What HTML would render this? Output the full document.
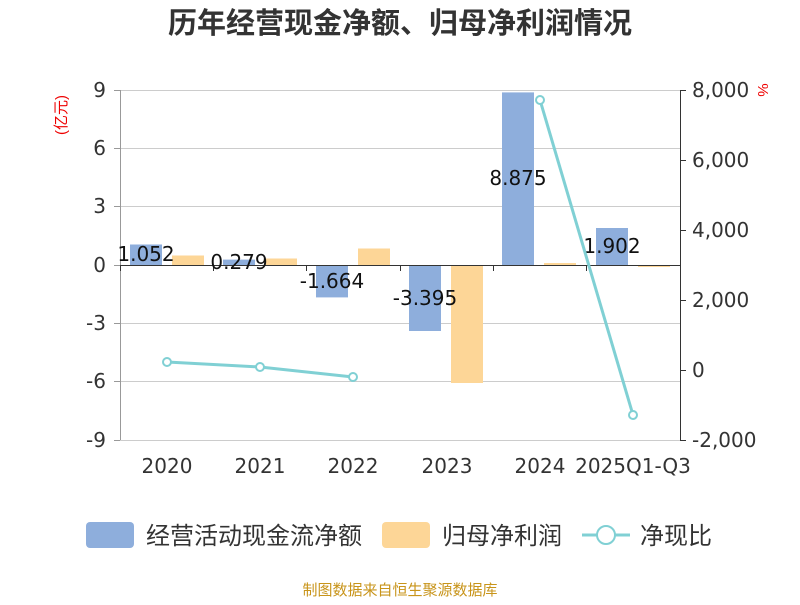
<!DOCTYPE html>
<html><head><meta charset="utf-8"><style>
body{margin:0;background:#fff;}
svg text{font-family:"Liberation Sans","Noto Sans CJK SC",sans-serif;}
svg .n{font-family:"DejaVu Sans","Noto Sans CJK SC",sans-serif;}
</style></head><body>
<svg width="800" height="600" xmlns="http://www.w3.org/2000/svg">
<text x="400" y="33" text-anchor="middle" font-size="29" font-weight="bold" fill="#333">历年经营现金净额、归母净利润情况</text>
<text transform="translate(66,115) rotate(-90)" text-anchor="middle" font-size="15" fill="#e00">(亿元)</text>
<text transform="translate(758,90) rotate(90)" text-anchor="middle" font-size="15" fill="#e00">%</text>
<g stroke="#ccc" stroke-width="1">
<line x1="120" x2="680" y1="90.5" y2="90.5"/><line x1="120" x2="680" y1="148.5" y2="148.5"/>
<line x1="120" x2="680" y1="206.5" y2="206.5"/><line x1="120" x2="680" y1="323.5" y2="323.5"/>
<line x1="120" x2="680" y1="381.5" y2="381.5"/><line x1="120" x2="680" y1="440.5" y2="440.5"/>
</g>
<line x1="120.5" x2="120.5" y1="90" y2="440" stroke="#999"/>
<g stroke="#999">
<line x1="114" x2="120" y1="90.5" y2="90.5"/><line x1="114" x2="120" y1="148.5" y2="148.5"/>
<line x1="114" x2="120" y1="206.5" y2="206.5"/><line x1="114" x2="120" y1="265.5" y2="265.5"/>
<line x1="114" x2="120" y1="323.5" y2="323.5"/><line x1="114" x2="120" y1="381.5" y2="381.5"/>
<line x1="114" x2="120" y1="440.5" y2="440.5"/>
</g>
<line x1="680.5" x2="680.5" y1="90" y2="440" stroke="#333"/>
<g stroke="#333">
<line x1="680" x2="686" y1="90.5" y2="90.5"/><line x1="680" x2="686" y1="160.5" y2="160.5"/>
<line x1="680" x2="686" y1="230.5" y2="230.5"/><line x1="680" x2="686" y1="300.5" y2="300.5"/>
<line x1="680" x2="686" y1="370.5" y2="370.5"/><line x1="680" x2="686" y1="440.5" y2="440.5"/>
</g>
<g class="n" fill="#333" font-size="20" text-anchor="end">
<text class="n" x="106" y="97">9</text><text class="n" x="106" y="155">6</text><text class="n" x="106" y="213">3</text>
<text class="n" x="106" y="272">0</text><text class="n" x="106" y="330">-3</text><text class="n" x="106" y="388">-6</text><text class="n" x="106" y="447">-9</text>
</g>
<g fill="#333" font-size="20">
<text class="n" x="692" y="97">8,000</text><text class="n" x="692" y="167">6,000</text><text class="n" x="692" y="237">4,000</text>
<text class="n" x="692" y="307">2,000</text><text class="n" x="692" y="377">0</text><text class="n" x="692" y="447">-2,000</text>
</g>
<g fill="#8eaedc">
<rect x="130" y="244.5" width="32" height="20.5"/>
<rect x="223" y="259.6" width="32" height="5.4"/>
<rect x="316" y="265" width="32" height="32.4"/>
<rect x="409" y="265" width="32" height="66"/>
<rect x="502" y="92.4" width="32" height="172.6"/>
<rect x="596" y="228" width="32" height="37"/>
</g>
<g fill="#fdd697">
<rect x="172" y="255.5" width="32" height="9.5"/>
<rect x="265" y="258.5" width="32" height="6.5"/>
<rect x="358" y="248.5" width="32" height="16.5"/>
<rect x="451" y="265" width="32" height="118"/>
<rect x="544" y="263" width="32" height="2"/>
<rect x="638" y="265" width="32" height="2"/>
</g>
<line x1="120" x2="680" y1="265.5" y2="265.5" stroke="#333"/>
<g stroke="#333">
<line x1="120.5" x2="120.5" y1="265" y2="271"/><line x1="213.5" x2="213.5" y1="265" y2="271"/>
<line x1="306.5" x2="306.5" y1="265" y2="271"/><line x1="400.5" x2="400.5" y1="265" y2="271"/>
<line x1="493.5" x2="493.5" y1="265" y2="271"/><line x1="586.5" x2="586.5" y1="265" y2="271"/>
<line x1="680.5" x2="680.5" y1="265" y2="271"/>
</g>
<g fill="#111" font-size="20" text-anchor="middle">
<text class="n" x="146" y="261">1.052</text><text class="n" x="239" y="269">0.279</text>
<text class="n" x="332" y="288">-1.664</text><text class="n" x="425" y="305">-3.395</text>
<text class="n" x="518" y="185">8.875</text><text class="n" x="612" y="253">1.902</text>
</g>
<polyline points="167,362 260,367 353,377" fill="none" stroke="#80d0d4" stroke-width="3"/>
<polyline points="540,100 633,415" fill="none" stroke="#80d0d4" stroke-width="3"/>
<g fill="#fff" stroke="#80d0d4" stroke-width="2">
<circle cx="167" cy="362" r="4"/><circle cx="260" cy="367" r="4"/><circle cx="353" cy="377" r="4"/>
<circle cx="540" cy="100" r="4"/><circle cx="633" cy="415" r="4"/>
</g>
<g fill="#333" font-size="20" text-anchor="middle">
<text class="n" x="167" y="473">2020</text><text class="n" x="260" y="473">2021</text><text class="n" x="353" y="473">2022</text>
<text class="n" x="447" y="473">2023</text><text class="n" x="540" y="473">2024</text><text class="n" x="633" y="473">2025Q1-Q3</text>
</g>
<rect x="86" y="522" width="48" height="26" rx="4" fill="#8eaedc"/>
<text x="146" y="544" font-size="24" fill="#333">经营活动现金流净额</text>
<rect x="382" y="522" width="48" height="26" rx="4" fill="#fdd697"/>
<text x="442" y="544" font-size="24" fill="#333">归母净利润</text>
<line x1="582" x2="630" y1="535" y2="535" stroke="#80d0d4" stroke-width="3"/>
<circle cx="606" cy="535" r="9" fill="#fff" stroke="#80d0d4" stroke-width="2"/>
<text x="640" y="544" font-size="24" fill="#333">净现比</text>
<text x="400" y="595" text-anchor="middle" font-size="15" fill="#c8941a">制图数据来自恒生聚源数据库</text>
</svg>
</body></html>
